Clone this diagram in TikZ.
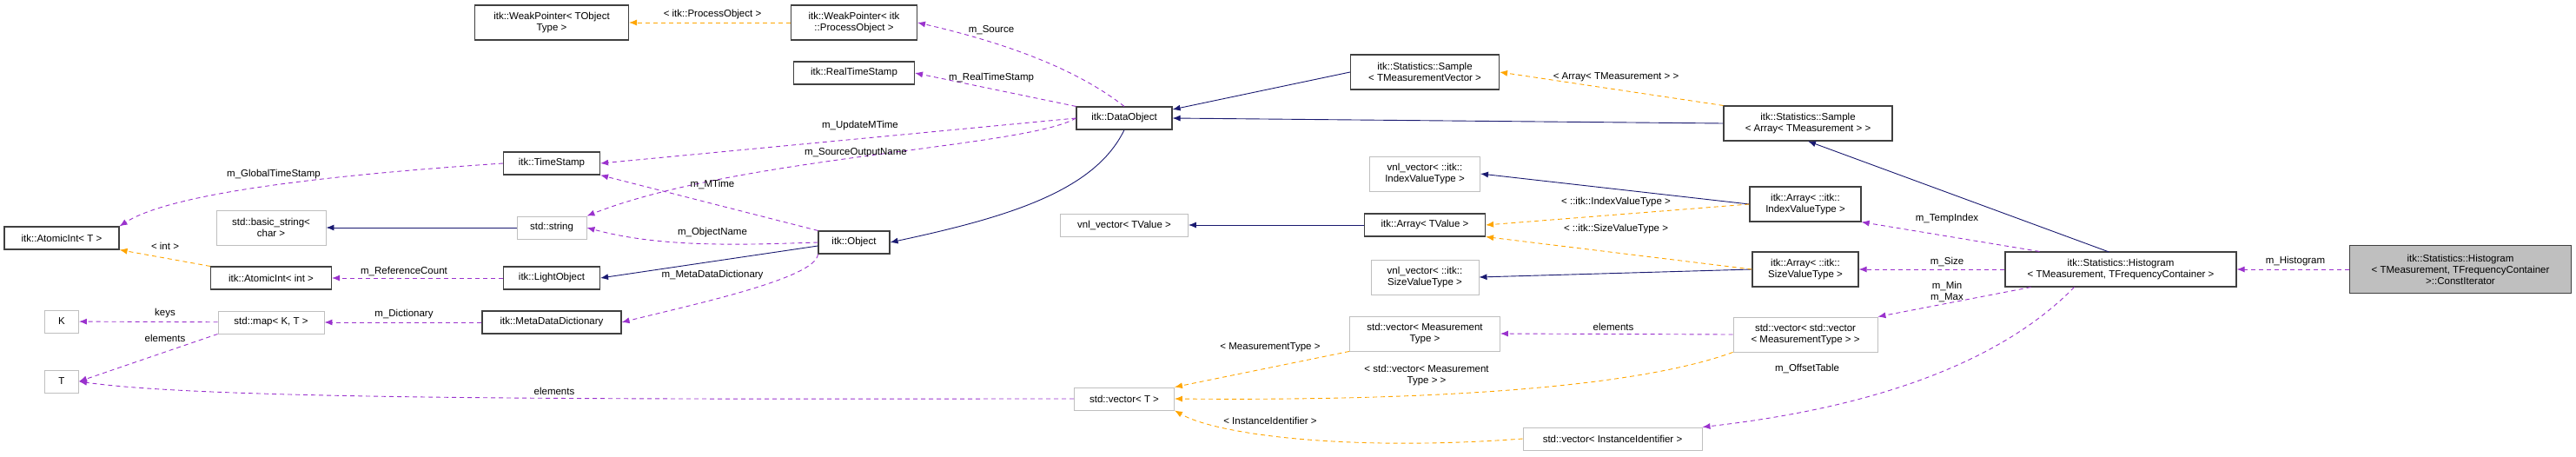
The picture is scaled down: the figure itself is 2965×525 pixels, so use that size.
\documentclass[tikz,border=0pt]{standalone}
\usepackage{fontspec}
\setmainfont{Liberation Sans}
\usetikzlibrary{arrows.meta}
\definecolor{inh}{RGB}{25,25,112}
\definecolor{usg}{RGB}{154,50,205}
\definecolor{tpl}{RGB}{255,165,0}
\definecolor{grayb}{RGB}{191,191,191}
\tikzset{
  cls/.style={draw=black!75, line width=1.1pt, fill=white, align=center, inner sep=2pt, minimum height=26pt, font=\fontsize{11.5}{13}\selectfont},
  ext/.style={cls, draw=grayb, line width=0.9pt},
  lbl/.style={font=\fontsize{11.5}{13}\selectfont, align=center, inner sep=1pt},
  inherit/.style={inh, line width=0.9pt, -{Latex[length=9pt,width=7pt]}},
  member/.style={usg, line width=0.9pt, dash pattern=on 5pt off 4pt, -{Latex[length=9pt,width=7pt]}},
  templ/.style={tpl, line width=0.9pt, dash pattern=on 5pt off 4pt, -{Latex[length=9pt,width=7pt]}}
}
\begin{document}
\begin{tikzpicture}[x=1pt,y=-1pt]
\useasboundingbox (0,0) rectangle (2965,525);
% classes
\node [cls, minimum width=177pt, minimum height=40pt] (wpT) at (635,26) {itk::WeakPointer< TObject\\Type >};
\node [cls, minimum width=145pt, minimum height=40pt] (wpP) at (983,26) {itk::WeakPointer< itk\\::ProcessObject >};
\node [cls, minimum width=139pt] (rts) at (983,84) {itk::RealTimeStamp};
\node [cls, minimum width=111pt] (ts) at (635,188) {itk::TimeStamp};
\node [cls, minimum width=132pt] (aiT) at (71,274) {itk::AtomicInt< T >};
\node [ext, minimum width=126pt, minimum height=40pt] (bstr) at (312,262) {std::basic\_string<\\char >};
\node [ext, minimum width=80pt] (str) at (635,262) {std::string};
\node [cls, minimum width=139pt] (aiI) at (312,320) {itk::AtomicInt< int >};
\node [cls, minimum width=111pt] (lo) at (635,320) {itk::LightObject};
\node [ext, minimum width=39pt] (K) at (71,370) {K};
\node [ext, minimum width=122pt] (map) at (312,371) {std::map< K, T >};
\node [cls, minimum width=160pt] (mdd) at (635,371) {itk::MetaDataDictionary};
\node [ext, minimum width=39pt] (T) at (71,439) {T};
\node [cls, minimum width=82pt] (obj) at (983,279) {itk::Object};
\node [cls, minimum width=110pt] (dobj) at (1294,136) {itk::DataObject};
\node [cls, minimum width=171pt, minimum height=40pt] (smpV) at (1640,83) {itk::Statistics::Sample\\< TMeasurementVector >};
\node [cls, minimum width=194pt, minimum height=40pt] (smpA) at (2081,142) {itk::Statistics::Sample\\< Array< TMeasurement > >};
\node [ext, minimum width=127pt, minimum height=40pt] (vnlI) at (1640,200) {vnl\_vector< ::itk::\\IndexValueType >};
\node [ext, minimum width=147pt] (vnlV) at (1294,259) {vnl\_vector< TValue >};
\node [cls, minimum width=139pt] (arrV) at (1640,259) {itk::Array< TValue >};
\node [ext, minimum width=124pt, minimum height=40pt] (vnlS) at (1640,319) {vnl\_vector< ::itk::\\SizeValueType >};
\node [ext, minimum width=173pt, minimum height=40pt] (vecM) at (1640,384) {std::vector< Measurement\\Type >};
\node [ext, minimum width=115pt] (vecT) at (1294,459) {std::vector< T >};
\node [ext, minimum width=206pt] (vecId) at (1856,505) {std::vector< InstanceIdentifier >};
\node [cls, minimum width=128pt, minimum height=40pt] (arrI) at (2078,235) {itk::Array< ::itk::\\IndexValueType >};
\node [cls, minimum width=122pt, minimum height=40pt] (arrS) at (2078,310) {itk::Array< ::itk::\\SizeValueType >};
\node [ext, minimum width=166pt, minimum height=40pt] (vecVM) at (2078,385) {std::vector< std::vector\\< MeasurementType > >};
\node [cls, minimum width=266pt, minimum height=40pt] (hist) at (2441,310) {itk::Statistics::Histogram\\< TMeasurement, TFrequencyContainer >};
\node [cls, fill=grayb, minimum width=255pt, minimum height=55pt] (cit) at (2832,310) {itk::Statistics::Histogram\\< TMeasurement, TFrequencyContainer\\>::ConstIterator};
% inheritance
\draw [inherit] (str) -- (bstr);
\draw [inherit] (obj.west) ++(0,4) coordinate (oW) (oW) -- (lo.east);
\draw [inherit] (dobj.south) .. controls (1260,220) and (1160,250) .. (obj.east);
\draw [inherit] (smpV.west) -- (dobj.east |- 0,126);
\draw [inherit] (smpA.west) -- (dobj.east);
\draw [inherit] (arrV) -- (vnlV);
\draw [inherit] (arrI.west) -- (vnlI.east);
\draw [inherit] (arrS.west) -- (vnlS.east);
\draw [inherit] (hist.north west |- 0,290) ++(120,0) coordinate (hN) (hN) -- (smpA.south);
% members
\draw [member] (dobj.north) .. controls (1240,80) and (1160,50) .. (wpP.east);
\draw [member] (dobj.north west) -- (rts.east);
\draw [member] (dobj.west) -- (ts.east);
\draw [member] (dobj.west) .. controls (1180,170) and (850,180) .. (str.north east);
\draw [member] (obj.north west) -- (ts.south east);
\draw [member] (obj.west) .. controls (850,282) and (760,285) .. (str.east);
\draw [member] (obj.south west) .. controls (940,320) and (800,350) .. (mdd.east);
\draw [member] (ts.west) .. controls (400,200) and (200,220) .. (aiT.north east);
\draw [member] (lo) -- (aiI);
\draw [member] (mdd) -- (map);
\draw [member] (map) -- (K);
\draw [member] (map.south west) -- (T.east);
\draw [member] (vecT.west) .. controls (800,459) and (250,462) .. (T.east);
\draw [member] (vecVM.west) -- (vecM.east);
\draw [member] (hist.north west) ++(40,0) coordinate (hT) (hT) -- (arrI.south east);
\draw [member] (hist) -- (arrS);
\draw [member] (hist.south west) ++(30,0) coordinate (hM) (hM) -- (vecVM.north east);
\draw [member] (hist.south west) ++(80,0) coordinate (hO) (hO) .. controls (2300,420) and (2150,470) .. (vecId.north east);
\draw [member] (cit) -- (hist);
% templates
\draw [templ] (wpP) -- (wpT);
\draw [templ] (aiI.north west) -- (aiT.south east);
\draw [templ] (smpA.north west) -- (smpV.east);
\draw [templ] (arrI.west) -- (arrV.east);
\draw [templ] (arrS.west) -- (arrV.south east);
\draw [templ] (vecM.south west) -- (vecT.north east);
\draw [templ] (vecVM.south west) .. controls (1900,440) and (1700,462) .. (vecT.east);
\draw [templ] (vecId.west) .. controls (1550,520) and (1400,500) .. (vecT.south east);
% labels
\node [lbl] (lSource) at (1141,35) {m\_Source};
\node [lbl] (lRTS) at (1141,90) {m\_RealTimeStamp};
\node [lbl] (lUpd) at (990,145) {m\_UpdateMTime};
\node [lbl] (lSON) at (985,176) {m\_SourceOutputName};
\node [lbl] (lMTime) at (820,212) {m\_MTime};
\node [lbl] (lObjN) at (820,268) {m\_ObjectName};
\node [lbl] (lMDD) at (820,317) {m\_MetaDataDictionary};
\node [lbl] (lGTS) at (315,201) {m\_GlobalTimeStamp};
\node [lbl] (lRC) at (465,312) {m\_ReferenceCount};
\node [lbl] (lDict) at (465,362) {m\_Dictionary};
\node [lbl] (lKeys) at (190,361) {keys};
\node [lbl] (lElT) at (190,389) {elements};
\node [lbl] (lElV) at (638,450) {elements};
\node [lbl] (lElM) at (1857,376) {elements};
\node [lbl] (lTmp) at (2241,252) {m\_TempIndex};
\node [lbl] (lSize) at (2241,301) {m\_Size};
\node [lbl] (lMinMax) at (2241,336) {m\_Min\\m\_Max};
\node [lbl] (lOff) at (2080,424) {m\_OffsetTable};
\node [lbl] (lHist) at (2642,301) {m\_Histogram};
\node [lbl] (lPO) at (820,17) {< itk::ProcessObject >};
\node [lbl] (lInt) at (190,283) {< int >};
\node [lbl] (lArrM) at (1860,89) {< Array< TMeasurement > >};
\node [lbl] (lIVT) at (1860,233) {< ::itk::IndexValueType >};
\node [lbl] (lSVT) at (1860,264) {< ::itk::SizeValueType >};
\node [lbl] (lMT) at (1462,400) {< MeasurementType >};
\node [lbl] (lVMT) at (1642,432) {< std::vector< Measurement\\Type > >};
\node [lbl] (lII) at (1462,484) {< InstanceIdentifier >};
\end{tikzpicture}
\end{document}
